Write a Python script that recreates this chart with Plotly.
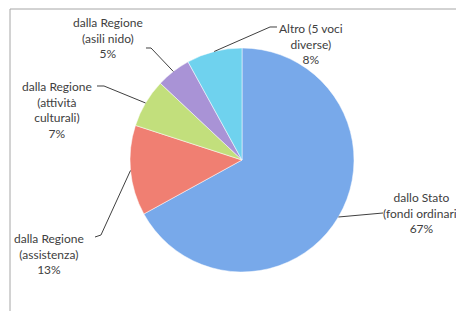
import math
import plotly.graph_objects as go

labels = ["dallo Stato (fondi ordinari)", "dalla Regione (assistenza)",
          "dalla Regione (attività culturali)", "dalla Regione (asili nido)",
          "Altro (5 voci diverse)"]
values = [67, 13, 7, 5, 8]
text_labels = ["dallo Stato<br>(fondi ordinari)<br>67%",
               "dalla Regione<br>(assistenza)<br>13%",
               "dalla Regione<br>(attività<br>culturali)<br>7%",
               "dalla Regione<br>(asili nido)<br>5%",
               "Altro (5 voci<br>diverse)<br>8%"]
colors = ["#78a9ea", "#f07f72", "#c2df7c", "#a993d6", "#6fd2ee"]

PAGE_W, PAGE_H = 464, 311
OFF = 8  # default page body margin
W, H = PAGE_W - OFF, PAGE_H - OFF
cx, cy, R = 242, 160, 112  # pie centre / radius in page px

# label text centres (page px) and elbow points of leader lines (page px)
label_pos = [(421, 213), (49, 254), (57, 110), (108, 38), (311, 44)]
elbows = [[(383, 213)], [(95, 237), (101, 235)], [(97, 86), (104, 86)],
          [(146, 48), (151, 48)], [(277, 27), (270, 27)]]

def px(x, y):
    return (x - OFF) / W, 1 - (y - OFF) / H

x0d, y1d = px(cx - R, cy - R)
x1d, y0d = px(cx + R, cy + R)
fig = go.Figure(go.Pie(
    labels=labels, values=values, sort=False, direction="clockwise",
    rotation=0, textinfo="none", hoverinfo="label+percent",
    marker=dict(colors=colors, line=dict(color="#ffffff", width=0.5)),
    domain=dict(x=[x0d, x1d], y=[y0d, y1d]),
    showlegend=False,
))

shapes = []
annotations = []
total = sum(values)
cum = 0
for i, v in enumerate(values):
    mid = (cum + v / 2) / total * 2 * math.pi
    cum += v
    tx = cx + R * math.sin(mid)
    ty = cy - R * math.cos(mid)
    pts = elbows[i] + [(tx, ty)]
    path = ""
    for j, (x, y) in enumerate(pts):
        X, Y = px(x, y)
        path += ("M" if j == 0 else " L") + f" {X:.4f},{Y:.4f}"
    shapes.append(dict(type="path", xref="paper", yref="paper", path=path,
                       line=dict(color="#404040", width=1)))
    lx, ly = px(*label_pos[i])
    annotations.append(dict(x=lx, y=ly, xref="paper", yref="paper", text=text_labels[i],
                            showarrow=False, xanchor="center", yanchor="middle",
                            font=dict(family="Lato", size=12, color="#404040")))

# chart frame
fx, fy = px(10, 9)
shapes.append(dict(type="line", xref="paper", yref="paper", x0=fx, x1=fx,
                   y0=0, y1=fy, line=dict(color="#a6a6a6", width=1)))
shapes.append(dict(type="line", xref="paper", yref="paper", x0=fx, x1=1,
                   y0=fy, y1=fy, line=dict(color="#a6a6a6", width=1)))

fig.update_layout(width=W, height=H, margin=dict(l=0, r=0, t=0, b=0),
                  paper_bgcolor="white", plot_bgcolor="white",
                  shapes=shapes, annotations=annotations)
fig.write_html("out.html")
